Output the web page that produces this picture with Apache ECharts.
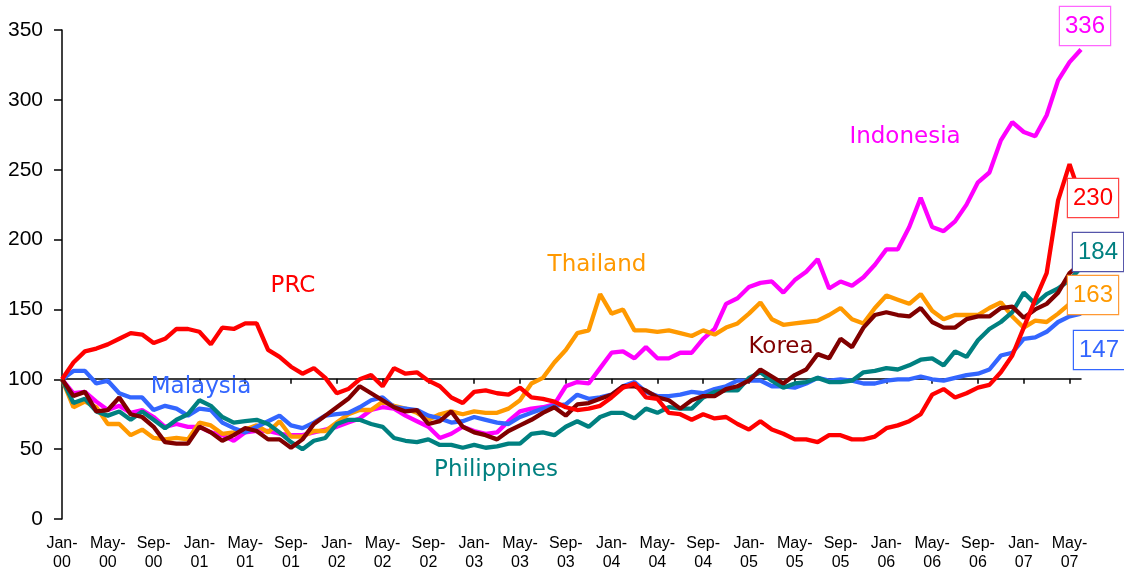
<!DOCTYPE html>
<html>
<head>
<meta charset="utf-8">
<script src="https://cdn.jsdelivr.net/npm/echarts@6/dist/echarts.min.js"></script>
<style>html,body{margin:0;padding:0;background:#fff;}#c{width:1124px;height:572px;}</style>
</head>
<body>
<div id="c"></div>
<script>
const monthNames = ['Jan','Feb','Mar','Apr','May','Jun','Jul','Aug','Sep','Oct','Nov','Dec'];
const years = ['00','01','02','03','04','05','06','07'];
const categories = [];
for (const y of years) for (const m of monthNames) if (categories.length < 90) categories.push(m + '-\n' + y);

const yTicks = [0, 50, 100, 150, 200, 250, 300, 350];

const prc = [100,112,120,122,125,129,133,132,126,129,
136,136,134,125,137,136,140,140,121,116,
109,104,108,101,90,93,100,103,95,108,
104,105,99,95,87,83,91,92,90,89,
94,87,86,84,80,78,79,81,87,94,
97,87,86,76,75,71,75,72,73,68,
64,70,64,61,57,57,55,60,60,57,
57,59,65,67,70,75,89,93,87,90,
94,96,105,117,137,157,176,228,254,230];

const indonesia = [100,90,91,84,78,81,76,78,73,66,
68,66,66,62,60,56,62,63,63,61,
60,60,62,64,66,69,72,78,80,79,
74,70,66,58,61,66,63,61,62,70,
77,79,80,82,95,98,97,108,119,120,
115,123,115,115,119,119,129,136,154,158,
166,169,170,162,171,177,186,165,170,167,
173,182,193,193,209,230,209,206,213,225,
241,248,271,284,277,274,289,314,327,336];

const thailand = [100,80,84,80,68,68,60,64,58,57,
58,57,69,67,61,62,64,67,62,70,
59,59,63,63,69,75,78,78,84,81,
79,76,71,75,77,75,77,76,76,79,
85,97,101,112,121,133,135,161,147,150,
135,135,134,135,133,131,135,132,137,140,
147,155,143,139,140,141,142,146,151,143,
140,151,160,157,154,161,149,143,146,146,
146,151,155,145,137,142,141,147,154,163];

const korea = [100,88,91,77,78,87,75,73,66,55,
54,54,66,62,56,60,65,63,57,57,
51,57,68,74,80,86,95,90,85,80,
77,78,68,70,77,66,62,60,57,63,
67,71,76,80,74,82,83,86,89,95,
95,92,87,85,79,85,88,88,93,95,
99,107,102,97,103,107,118,115,129,123,
137,146,148,146,145,151,141,137,137,143,
145,145,151,152,144,150,154,162,176,183];

const philippines = [100,83,86,77,74,77,71,77,71,65,
71,75,85,81,73,69,70,71,68,62,
55,50,56,58,68,71,71,68,66,58,
56,55,57,53,53,51,53,51,52,54,
54,61,62,60,66,70,66,73,76,76,
72,79,76,80,79,79,87,91,92,92,
101,105,99,94,97,98,101,98,98,99,
105,106,108,107,110,114,115,110,120,116,
128,136,141,148,162,154,161,165,171,180];

const malaysia = [100,106,106,97,99,90,87,87,78,81,
79,74,79,78,69,65,62,66,70,74,
67,65,69,74,75,76,80,85,87,80,
79,78,74,72,69,70,73,71,69,68,
73,76,79,81,82,89,86,87,89,95,
98,91,88,88,89,91,90,93,95,99,
99,99,95,95,94,97,101,99,100,99,
97,97,99,100,100,102,100,99,101,103,
104,107,117,119,129,130,134,141,145,147];

const seriesNames = ['Indonesia','Thailand','Malaysia','Philippines','Korea','PRC'];
const seriesData = [indonesia, thailand, malaysia, philippines, korea, prc];
const seriesColors = ['#FF00FF','#FF9900','#3366FF','#008080','#800000','#FF0000'];

const nameLabels = [
  {text:'PRC', x:293, y:286, color:'#FF0000'},
  {text:'Malaysia', x:201, y:387, color:'#3366FF'},
  {text:'Thailand', x:597, y:265, color:'#FF9900'},
  {text:'Indonesia', x:905, y:137, color:'#FF00FF'},
  {text:'Korea', x:781, y:347, color:'#800000'},
  {text:'Philippines', x:496, y:470, color:'#008080'}
];
const endLabels = [
  {text:'336', x:1085, y:26, color:'#FF00FF', border:'#FF66FF'},
  {text:'230', x:1093, y:198, color:'#FF0000', border:'#FF4444'},
  {text:'184', x:1098, y:252, color:'#008080', border:'#5555AA'},
  {text:'163', x:1093, y:295, color:'#FF9900', border:'#FF9933'},
  {text:'147', x:1099, y:350, color:'#3366FF', border:'#3366FF'}
];

const chart = echarts.init(document.getElementById('c'), null, {renderer:'canvas'});
const graphics = [];
nameLabels.forEach(l => graphics.push({
  type:'text', x:l.x, y:l.y, z:100,
  style:{text:l.text, fill:l.color, font:'23px "DejaVu Sans"', align:'center', verticalAlign:'middle', textAlign:'center', textVerticalAlign:'middle'}
}));
endLabels.forEach(l => graphics.push({
  type:'text', x:l.x, y:l.y, z:100,
  style:{text:l.text, fill:l.color, font:'24px "Liberation Sans"', align:'center', verticalAlign:'middle', textAlign:'center', textVerticalAlign:'middle',
    backgroundColor:'#fff', borderColor:l.border, borderWidth:1.2, padding:[8,5,6,5]}
}));

const series = seriesNames.map((n,i) => ({
  name:n, type:'line', data:seriesData[i], xAxisIndex:0, yAxisIndex:0,
  symbol:'none', lineStyle:{color:seriesColors[i], width:4.3}, itemStyle:{color:seriesColors[i]},
  z: 2 + i
}));
series.push({type:'line', xAxisIndex:1, yAxisIndex:1, data:[], symbol:'none'});

chart.setOption({
  animation:false,
  backgroundColor:'#fff',
  grid:[
    {left:62, right:43, top:30, bottom:53},
    {left:62, right:43, top:30, bottom:193.3}
  ],
  xAxis:[
    {type:'category', gridIndex:0, data:categories, boundaryGap:false,
     axisLine:{show:false}, axisTick:{show:false}, splitLine:{show:false},
     axisLabel:{interval:3, color:'#000', fontSize:16, lineHeight:19, margin:15, fontFamily:'Liberation Sans'}},
    {type:'category', gridIndex:1, data:categories, boundaryGap:false,
     axisLine:{show:true, lineStyle:{color:'#000', width:1.5}},
     axisTick:{show:true, interval:3, length:5, lineStyle:{color:'#000', width:1.5}},
     axisLabel:{show:false}, splitLine:{show:false}}
  ],
  yAxis:[
    {type:'value', gridIndex:0, min:yTicks[0], max:yTicks[yTicks.length-1], interval:50,
     axisLine:{show:true, lineStyle:{color:'#000', width:1.5}},
     axisTick:{show:true, length:8, lineStyle:{color:'#000', width:1.5}},
     splitLine:{show:false},
     axisLabel:{color:'#000', fontSize:21, margin:19, fontFamily:'Liberation Sans'}},
    {type:'value', gridIndex:1, min:0, max:1, show:false}
  ],
  graphic: graphics,
  series: series
});
</script>
</body>
</html>
